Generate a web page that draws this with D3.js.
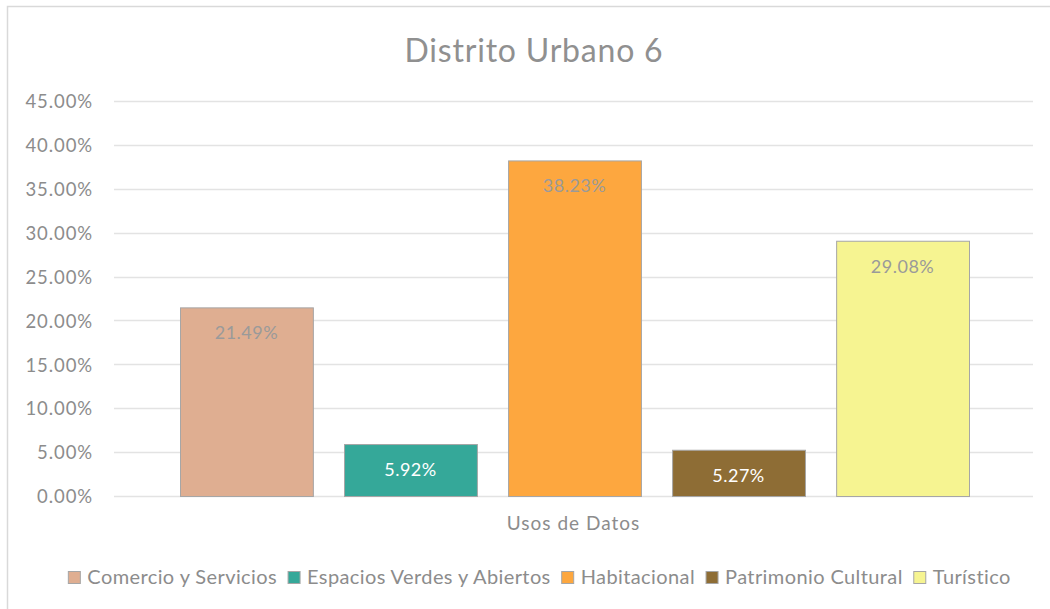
<!DOCTYPE html>
<html>
<head>
<meta charset="utf-8">
<script src="https://cdn.jsdelivr.net/npm/d3@7"></script>
<style>
  html, body { margin: 0; padding: 0; background: #fff; }
  svg { display: block; }
  text { font-family: Lato, "Open Sans", sans-serif; }
</style>
</head>
<body>
<svg id="chart" width="1050" height="609"></svg>
<script>
// Land-use shares for Distrito Urbano 6
const categories = ["Comercio y Servicios", "Espacios Verdes y Abiertos", "Habitacional", "Patrimonio Cultural", "Turístico"];
const values = [0.2149, 0.0592, 0.3823, 0.0527, 0.2908];
const colors = ["#DFAE91", "#35A899", "#FDA73F", "#8E6D35", "#F6F491"];
const labelColors = ["#9a9a9a", "#ffffff", "#9a9a9a", "#ffffff", "#9a9a9a"];
const yTicks = [0, 0.05, 0.10, 0.15, 0.20, 0.25, 0.30, 0.35, 0.40, 0.45];
const titleText = "Distrito Urbano 6";
const axisTitle = "Usos de Datos";

const svg = d3.select("#chart");
const W = 1050, H = 609;

// outer chart frame (left and top edges)
svg.append("path")
  .attr("d", `M7.5,${H} L7.5,6.5 L${W},6.5`)
  .attr("fill", "none")
  .attr("stroke", "#d9d9d9")
  .attr("stroke-width", 1.5);

const plot = { left: 114, right: 1033, top: 101, bottom: 496 };

const y = d3.scaleLinear().domain([0, 0.45]).range([plot.bottom, plot.top]);
const x = d3.scaleBand().domain(categories).range([180, 969]).paddingInner(0.19).paddingOuter(0);

// horizontal gridlines
svg.append("g")
  .selectAll("line")
  .data(yTicks)
  .join("line")
  .attr("x1", plot.left)
  .attr("x2", plot.right)
  .attr("y1", d => Math.round(y(d)) + 0.5)
  .attr("y2", d => Math.round(y(d)) + 0.5)
  .attr("stroke", "#e3e3e3")
  .attr("stroke-width", 1.3);

// y axis labels
const fmt = d => (d * 100).toFixed(2) + "%";
const yAxis = d3.axisLeft(y).tickValues(yTicks).tickFormat(fmt).tickSize(0).tickPadding(0);
const gy = svg.append("g").attr("transform", "translate(93,0)").call(yAxis);
gy.select(".domain").remove();
gy.selectAll("text")
  .attr("fill", "#8c8c8c")
  .attr("dy", "0.36em")
  .style("font-size", "18.5px")
  .style("letter-spacing", "0.9px")
  .style("font-family", "Lato, 'Open Sans', sans-serif");

// bars
svg.append("g")
  .selectAll("rect")
  .data(values)
  .join("rect")
  .attr("x", (d, i) => x(categories[i]) + 0.5)
  .attr("y", d => y(d) + 0.5)
  .attr("width", x.bandwidth())
  .attr("height", d => y(0) - y(d))
  .attr("fill", (d, i) => colors[i])
  .attr("stroke", "#a6a6a6")
  .attr("stroke-width", 1);

// value labels inside the top of each bar
svg.append("g")
  .selectAll("text")
  .data(values)
  .join("text")
  .attr("x", (d, i) => x(categories[i]) + x.bandwidth() / 2)
  .attr("y", d => y(d) + 32)
  .attr("text-anchor", "middle")
  .attr("fill", (d, i) => labelColors[i])
  .style("font-size", "18px")
  .style("letter-spacing", "0.5px")
  .text(d => (d * 100).toFixed(2) + "%");

// chart title
svg.append("text")
  .attr("x", 534)
  .attr("y", 62)
  .attr("text-anchor", "middle")
  .attr("fill", "#909090")
  .style("font-size", "32px")
  .style("letter-spacing", "0.8px")
  .text(titleText);

// category axis title
svg.append("text")
  .attr("x", (plot.left + plot.right) / 2)
  .attr("y", 530)
  .attr("text-anchor", "middle")
  .attr("fill", "#8c8c8c")
  .style("font-size", "19px")
  .style("letter-spacing", "1px")
  .text(axisTitle);

// legend
const legend = svg.append("g");
const items = legend.selectAll("g")
  .data(categories)
  .join("g");
items.append("rect")
  .attr("width", 12)
  .attr("height", 12)
  .attr("y", -12)
  .attr("fill", (d, i) => colors[i])
  .attr("stroke", "#a6a6a6")
  .attr("stroke-width", 1);
items.append("text")
  .attr("x", 19)
  .attr("y", 0)
  .attr("fill", "#8c8c8c")
  .style("font-size", "20px")
  .style("letter-spacing", "0.4px")
  .text(d => d);

let cursor = 0;
const gap = 11;
items.each(function () {
  const g = d3.select(this);
  const w = 19 + g.select("text").node().getComputedTextLength();
  g.attr("transform", `translate(${cursor},0)`);
  cursor += w + gap;
});
const totalW = cursor - gap;
legend.attr("transform", `translate(${539 - totalW / 2 + 0.5},583.5)`);
</script>
</body>
</html>
